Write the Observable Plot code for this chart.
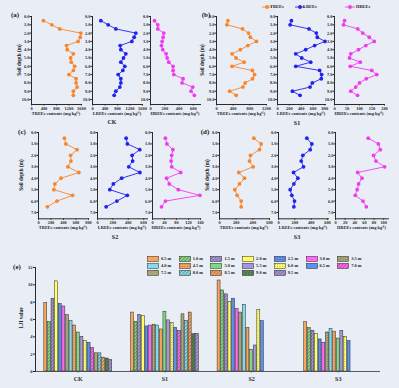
<!DOCTYPE html>
<html><head><meta charset="utf-8">
<script src="https://cdn.jsdelivr.net/npm/d3@7"></script>
<script src="https://cdn.jsdelivr.net/npm/@observablehq/plot@0.6"></script>
<style>
html,body{margin:0;padding:0;background:#e9eef6;}
#root{position:relative;width:399px;height:388px;background:#e9eef6;overflow:hidden;font-family:'Liberation Serif','Times New Roman',serif;font-weight:bold;color:#222;}
.t{position:absolute;white-space:nowrap;line-height:1;}
</style></head><body><div id="root"></div>
<script>
// ---------- data ----------
const depthsLong = [0.5,1.0,1.5,2.0,2.5,3.0,3.5,4.0,4.5,5.0,5.5,6.0,6.5,7.0,7.5,8.0,8.5,9.0,9.5];
const depthsShort = [0.5,1.0,1.5,2.0,2.5,3.0,3.5,4.0,4.5,5.0,5.5,6.0,6.5];
const sites = ["CK","S1","S2","S3"];
const components = ["TREEs","LREEs","HREEs"];

const ckTREEs = [381,653,903,1578,1560,1491,1121,1143,1339,1252,1273,1382,1339,1197,1426,1426,1459,1339,1339];
const ckLREEs = [267,501,747,1387,1333,1259,885,907,1067,992,907,1035,971,821,907,907,875,747,693];
const ckHREEs = [56,102,102,186,177,163,153,172,219,233,256,316,316,326,456,442,591,567,614];

const s1TREEs = [275,249,625,768,811,960,752,572,373,469,663,371,860,914,866,688,634,317,473];
const s1LREEs = [235,213,532,655,672,801,627,476,308,409,560,308,711,745,739,588,549,252,381];
const s1HREEs = [40,36,93,113,139,159,125,96,65,60,103,63,149,169,127,100,85,65,92];

const s2TREEs = [415,437,617,514,519,470,645,361,262,246,546,295,142];
const s2LREEs = [372,389,549,450,457,406,551,314,206,160,388,252,112];
const s2HREEs = [43,48,68,64,62,64,94,47,56,86,158,43,30];

const s3TREEs = [412,500,480,372,360,404,232,300,240,184,212,260,260];
const s3LREEs = [347,408,388,298,278,306,184,237,188,143,163,196,188];
const s3HREEs = [68,89,93,79,84,102,46,55,48,45,41,57,64];

const ckLJI = [7.9,5.7,8.4,10.4,7.8,7.5,6.5,5.8,5.3,4.5,4.0,3.5,3.3,2.7,2.1,2.1,1.6,1.5,1.35];
const s1LJI = [6.8,5.7,6.5,6.4,5.2,5.3,5.4,5.3,4.85,6.9,5.9,5.6,5.05,4.7,6.6,5.85,6.8,4.3,4.35];
const s2LJI = [10.5,9.35,8.9,8.0,8.4,7.2,6.8,7.7,5.0,2.5,3.0,7.1,5.8];
const s3LJI = [5.7,5.0,4.7,4.3,3.7,3.3,4.5,4.9,4.6,3.8,4.7,4.0,3.5];

const depthTicksLong = [0,1,2,3,4,5,6,7,8,9,10];
const depthTicksShort = [0,1,2,3,4,5,6,7];
const ckTreeTicks = [0,400,800,1200,1600], ckLreeTicks = [0,400,800,1200,1600], ckHreeTicks = [0,200,400,600];
const s1TreeTicks = [0,400,800,1200], s1LreeTicks = [0,200,400,600,800], s1HreeTicks = [0,50,100,150,200];
const s2TreeTicks = [0,200,400,600,800], s2LreeTicks = [0,200,400,600], s2HreeTicks = [0,40,80,120,160];
const s3TreeTicks = [0,200,400,600], s3LreeTicks = [0,200,400,600], s3HreeTicks = [0,20,40,60,80,100];
const ljiTicks = [0,2,4,6,8,10,12];

// ---------- styles / layout ----------
const compColors = ["#f7862c","#2222ee","#f03cf0"];
const barColors = ["#f7a45c","#82d882","#a896d8","#ffff66","#5b8ff0","#ff66f2","#a6a676","#86dbe8","#f7a45c","#82d882","#a896d8","#ffff66","#5b8ff0","#ff66f2","#a6a676","#86dbe8","#f7a45c","#82d882","#a896d8"];
const barKinds = ["solid","hatch","hatch","solid","dots","solid","dots","solid","dots","solid","solid","dots","solid","hatch","solid","hatch","hatch","brick","hatch"];

const layouts = {
  CK: {yTop:16, yBot:104, yMax:10.6, xs:[[31,81],[92,142],[150,200]], xMax:[1600,1600,700], tag:"(a)", tagXY:[15,15], siteXY:[112,122], ylabXY:[20,60]},
  S1: {yTop:16, yBot:104, yMax:10.6, xs:[[216,266],[277,325],[334,384]], xMax:[1200,810,200], tag:"(b)", tagXY:[206,15], siteXY:[297,123], ylabXY:[203,60]},
  S2: {yTop:131.7, yBot:218, yMax:7.55, xs:[[38,88],[97,147],[152,200]], xMax:[800,650,160], tag:"(c)", tagXY:[22,132], siteXY:[115,237], ylabXY:[22,175]},
  S3: {yTop:131.7, yBot:218, yMax:7.55, xs:[[219,269],[278,328],[335,388]], xMax:[600,612,110], tag:"(d)", tagXY:[205,132], siteXY:[297,237], ylabXY:[208,175]}
};
const siteValues = {CK:[ckTREEs,ckLREEs,ckHREEs], S1:[s1TREEs,s1LREEs,s1HREEs], S2:[s2TREEs,s2LREEs,s2HREEs], S3:[s3TREEs,s3LREEs,s3HREEs]};
const siteTicks = {CK:[ckTreeTicks,ckLreeTicks,ckHreeTicks], S1:[s1TreeTicks,s1LreeTicks,s1HreeTicks], S2:[s2TreeTicks,s2LreeTicks,s2HreeTicks], S3:[s3TreeTicks,s3LreeTicks,s3HreeTicks]};
const siteDepths = {CK:depthsLong, S1:depthsLong, S2:depthsShort, S3:depthsShort};
const siteDepthTicks = {CK:depthTicksLong, S1:depthTicksLong, S2:depthTicksShort, S3:depthTicksShort};

const plotStyle = {background:"transparent", fontFamily:"'Liberation Serif','Times New Roman',serif", fontSize:"4.4px", fontWeight:"bold", color:"#2a2a2a", overflow:"visible"};

const root = document.getElementById("root");
function txt(s, x, y, size, opts = {}) {
  const d = document.createElement("div");
  d.className = "t";
  d.textContent = s;
  d.style.left = x + "px"; d.style.top = y + "px"; d.style.fontSize = size + "px";
  let tr = opts.anchor === "start" ? "translate(0,-50%)" : "translate(-50%,-50%)";
  if (opts.rotate) tr += " rotate(-90deg)";
  d.style.transform = tr;
  if (opts.color) d.style.color = opts.color;
  root.appendChild(d);
  return d;
}
function place(node, left, top) {
  node.style.position = "absolute";
  node.style.left = left + "px";
  node.style.top = top + "px";
  node.style.maxWidth = "none";
  root.appendChild(node);
}

// ---------- patterns ----------
const NS = "http://www.w3.org/2000/svg";
const defsSvg = document.createElementNS(NS, "svg");
defsSvg.setAttribute("width", 0); defsSvg.setAttribute("height", 0);
defsSvg.style.position = "absolute";
const defs = document.createElementNS(NS, "defs");
defsSvg.appendChild(defs);
root.appendChild(defsSvg);
function el(tag, attrs, parent) {
  const e = document.createElementNS(NS, tag);
  for (const k in attrs) e.setAttribute(k, attrs[k]);
  if (parent) parent.appendChild(e);
  return e;
}
barColors.forEach((c, i) => {
  const kind = barKinds[i];
  let w = 2.4, h = 2.4;
  if (kind === "brick") { w = 3; h = 2; }
  const p = el("pattern", {id: "bp" + i, patternUnits: "userSpaceOnUse", width: w, height: h}, defs);
  if (kind === "hatch") p.setAttribute("patternTransform", "rotate(45)");
  el("rect", {x: 0, y: 0, width: w, height: h, fill: c}, p);
  if (kind === "hatch") el("line", {x1: 0, y1: 0, x2: 0, y2: h, stroke: "#333", "stroke-width": 0.7}, p);
  if (kind === "dots") el("circle", {cx: 1.2, cy: 1.2, r: 0.35, fill: "#333"}, p);
  if (kind === "brick") {
    el("line", {x1: 0, y1: 0.25, x2: w, y2: 0.25, stroke: "#222", "stroke-width": 0.5}, p);
    el("line", {x1: 0.25, y1: 0, x2: 0.25, y2: 1, stroke: "#222", "stroke-width": 0.5}, p);
    el("line", {x1: 1.75, y1: 1, x2: 1.75, y2: 2, stroke: "#222", "stroke-width": 0.5}, p);
    el("line", {x1: 0, y1: 1.25, x2: w, y2: 1.25, stroke: "#222", "stroke-width": 0.5}, p);
  }
});

// ---------- line panels ----------
sites.forEach(site => {
  const L = layouts[site];
  const depths = siteDepths[site];
  components.forEach((comp, ci) => {
    const [x0, x1] = L.xs[ci];
    const ML = 16, MR = 8, MT = 4, MB = 9;
    const W = ML + (x1 - x0) + MR, H = MT + (L.yBot - L.yTop) + MB;
    const values = siteValues[site][ci];
    const data = depths.map((d, i) => ({depth: d, value: values[i]}));
    const svg = Plot.plot({
      width: W, height: H, marginLeft: ML, marginRight: MR, marginTop: MT, marginBottom: MB,
      style: plotStyle,
      x: {domain: [0, L.xMax[ci]], ticks: siteTicks[site][ci], tickFormat: d => String(d), tickSize: 1.5, tickPadding: 0.6, line: true, label: null},
      y: {domain: [0, L.yMax], reverse: true, ticks: siteDepthTicks[site], tickFormat: d => d.toFixed(1), tickSize: 1.5, tickPadding: 0.6, line: true, label: null},
      marks: [
        Plot.line(data, {x: "value", y: "depth", stroke: compColors[ci], strokeWidth: 0.9}),
        Plot.dot(data, {x: "value", y: "depth", fill: compColors[ci], r: 1.9})
      ]
    });
    place(svg, x0 - ML, L.yTop - MT);
    txt(comp + " contents (mg kg\u207B\u00B9)", (x0 + x1) / 2, L.yBot + 9.5, 4.4);
  });
  txt("Soil depth (m)", L.ylabXY[0], L.ylabXY[1], 5.2, {rotate: true});
  txt(L.tag, L.tagXY[0], L.tagXY[1], 7);
  txt(site, L.siteXY[0], L.siteXY[1], 6);
});

// top legend
[["TREEs", 262, 270], ["LREEs", 295, 303], ["HREEs", 345, 356]].forEach(([name, mx, tx], ci) => {
  const s = el("svg", {width: 10, height: 6});
  el("line", {x1: 0, y1: 3, x2: 10, y2: 3, stroke: compColors[ci], "stroke-width": 0.9}, s);
  el("circle", {cx: 5, cy: 3, r: 1.9, fill: compColors[ci]}, s);
  place(s, mx, 4);
  txt(name, tx, 7, 4.4, {anchor: "start"});
});

// ---------- bar chart ----------
const siteLJI = {CK: ckLJI, S1: s1LJI, S2: s2LJI, S3: s3LJI};
const slotKeys = [];
sites.forEach((s, si) => {
  if (si > 0) for (let g = 0; g < 5; g++) slotKeys.push(`gap${si}-${g}`);
  depthsLong.forEach(d => slotKeys.push(`${s}|${d}`));
});
const rows = [];
sites.forEach(s => siteLJI[s].forEach((v, i) => rows.push({site: s, depth: depthsLong[i], di: i, key: `${s}|${depthsLong[i]}`, value: v})));

const bar = Plot.plot({
  width: 399, height: 138, marginLeft: 35, marginRight: 19, marginTop: 17, marginBottom: 17,
  style: {...plotStyle, fontSize: "4.6px"},
  x: {type: "band", domain: slotKeys, range: [43.8, 371.7], paddingInner: 0.18, paddingOuter: 0, axis: null},
  y: {domain: [0, 12], ticks: ljiTicks, tickSize: 2, tickPadding: 1, line: true, label: null},
  marks: [
    ...depthsLong.map((d, i) => Plot.barY(rows.filter(r => r.di === i), {x: "key", y: "value", fill: `url(#bp${i})`, stroke: "#2a2a2a", strokeWidth: 0.5})),
    Plot.ruleY([0], {stroke: "#333", strokeWidth: 0.8}),
    Plot.ruleX(sites, {x: s => `${s}|5`, y1: 0, y2: -0.2, stroke: "#333", strokeWidth: 0.6}),
    Plot.text(sites, {x: s => `${s}|5`, y: 0, text: d => d, dy: 7.5, fontSize: 6, fontWeight: "bold"})
  ]
});
place(bar, 0, 250);
txt("LJI value", 21.5, 318, 5.2, {rotate: true});
txt("(e)", 17, 267, 7);

// bar legend
depthsLong.forEach((d, i) => {
  const row = Math.floor(i / 7), col = i % 7;
  const sx = 147 + col * 31.7, sy = 259 + row * 7;
  const s = el("svg", {width: 12, height: 6});
  el("rect", {x: 0.3, y: 0.3, width: 11.4, height: 5.2, fill: `url(#bp${i})`, stroke: "#2a2a2a", "stroke-width": 0.5}, s);
  place(s, sx, sy - 3);
  txt(d.toFixed(1) + " m", sx + 14, sy, 4.4, {anchor: "start"});
});
</script>
</body></html>
